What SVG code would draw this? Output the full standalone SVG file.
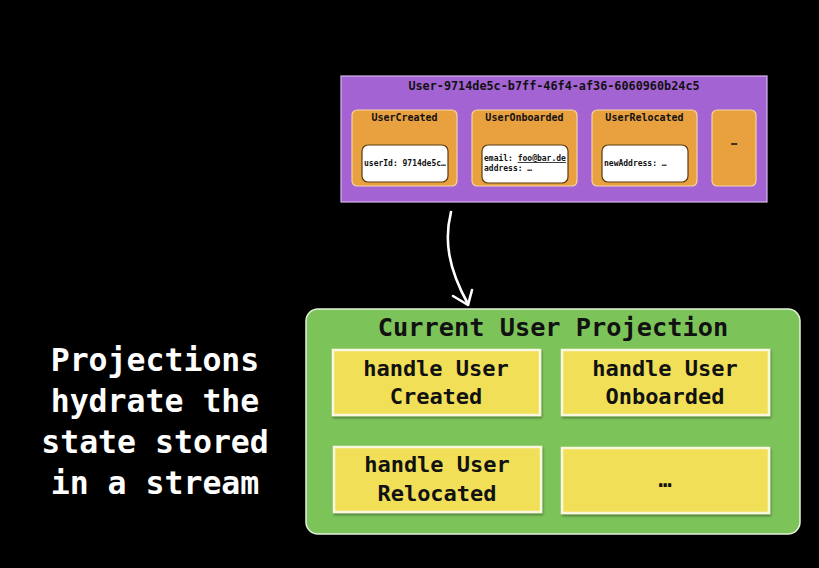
<svg xmlns="http://www.w3.org/2000/svg" width="819" height="568" viewBox="0 0 819 568">
<style>
text{font-family:"DejaVu Sans Mono","Liberation Mono",monospace;font-weight:bold}
.ev{fill:#e9a03f;stroke:#f6d3a3;stroke-width:1.2}
.pl{fill:#ffffff;stroke:#5a3a10;stroke-width:1.2}
.et{font-size:10px;fill:#111;text-anchor:middle}
.pt{font-size:8px;fill:#111}
.hd{fill:#f1df58;stroke:#fbf7df;stroke-width:2.5}
.ht{font-size:22px;fill:#111;text-anchor:middle}
.lt{font-size:31.5px;fill:#fff;text-anchor:middle}
</style>
<defs>
<filter id="sh" x="-5%" y="-5%" width="110%" height="120%"><feDropShadow dx="1" dy="2" stdDeviation="1" flood-color="#000" flood-opacity="0.35"/></filter>
</defs>
<rect x="0" y="0" width="819" height="568" fill="#000"/>

<g id="caption">
<text class="lt" x="155" y="371">Projections</text>
<text class="lt" x="155" y="412">hydrate the</text>
<text class="lt" x="155" y="453">state stored</text>
<text class="lt" x="155" y="494">in a stream</text>
</g>

<g id="stream">
<rect x="341" y="76" width="426" height="126" fill="#a463d3" stroke="#d6b8ec" stroke-width="1.2"/>
<text x="554" y="90" font-size="11.8px" fill="#111" text-anchor="middle">User-9714de5c-b7ff-46f4-af36-6060960b24c5</text>
</g>

<g id="ev-created">
<rect class="ev" x="352" y="110" width="105" height="76" rx="5"/>
<text class="et" x="404.5" y="121">UserCreated</text>
<rect class="pl" x="362" y="145" width="86" height="37" rx="6"/>
<text class="pt" x="364" y="166">userId: 9714de5c…</text>
</g>

<g id="ev-onboarded">
<rect class="ev" x="472" y="110" width="105" height="76" rx="5"/>
<text class="et" x="524.5" y="121">UserOnboarded</text>
<rect class="pl" x="482" y="145" width="86" height="38" rx="6"/>
<text class="pt" x="484" y="161">email: <tspan text-decoration="underline">foo@bar.de</tspan></text>
<text class="pt" x="484" y="171">address: …</text>
</g>

<g id="ev-relocated">
<rect class="ev" x="592" y="110" width="105" height="76" rx="5"/>
<text class="et" x="644.5" y="121">UserRelocated</text>
<rect class="pl" x="602" y="145" width="86" height="37" rx="6"/>
<text class="pt" x="604" y="166">newAddress: …</text>
</g>

<g id="ev-more">
<rect class="ev" x="712" y="110" width="44" height="76" rx="5"/>
<text class="et" x="734" y="145">…</text>
</g>

<g id="connectors">
<path d="M451 212 C444 240 448 268 468 304" fill="none" stroke="#fff" stroke-width="2.6" stroke-linecap="round"/>
<path d="M453 296 L468 305 L472 290" fill="none" stroke="#fff" stroke-width="2.6" stroke-linecap="round" stroke-linejoin="round"/>
</g>

<g id="projection">
<rect x="306" y="309" width="494" height="225" rx="12" fill="#7cc35a" stroke="#e4f3dc" stroke-width="1.5"/>
<text x="553" y="336" font-size="25.3px" fill="#111" text-anchor="middle">Current User Projection</text>
</g>

<g id="h-created">
<rect class="hd" x="333" y="350" width="207" height="65" filter="url(#sh)"/>
<text class="ht" x="436" y="376">handle User</text>
<text class="ht" x="436" y="404">Created</text>
</g>

<g id="h-onboarded">
<rect class="hd" x="562" y="350" width="207" height="65" filter="url(#sh)"/>
<text class="ht" x="665" y="376">handle User</text>
<text class="ht" x="665" y="404">Onboarded</text>
</g>

<g id="h-relocated">
<rect class="hd" x="334" y="447" width="207" height="65" filter="url(#sh)"/>
<text class="ht" x="437" y="472">handle User</text>
<text class="ht" x="437" y="501">Relocated</text>
</g>

<g id="h-more">
<rect class="hd" x="562" y="448" width="207" height="65" filter="url(#sh)"/>
<text class="ht" x="665" y="487">…</text>
</g>
</svg>
